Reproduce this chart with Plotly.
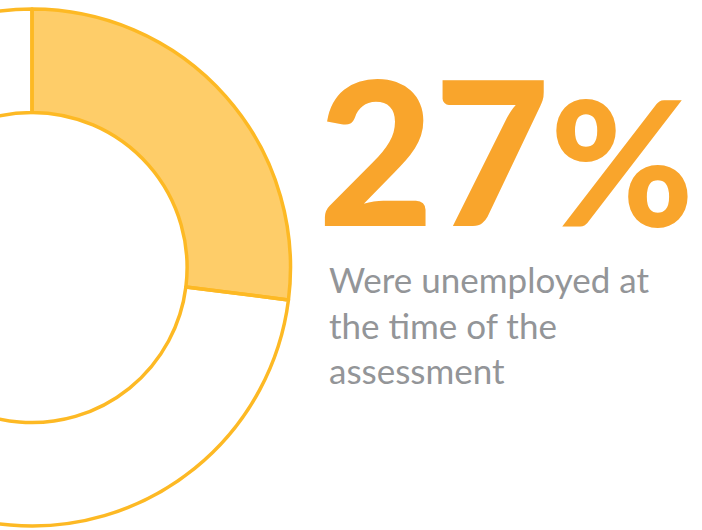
import plotly.graph_objects as go

# ---- data ----
labels = ["Unemployed", "Other"]
values = [27, 73]
slice_colors = ["#FECD69", "rgba(255,255,255,0)"]
big_number = "27"
big_unit = "%"
caption_lines = ["Were unemployed at", "the time of the", "assessment"]

# ---- layout geometry (figure wider than window, shifted left) ----
W, H = 1000, 530
S = 300  # px shifted out of view on the left

cx, cy, R = 32 + S, 267.5, 258.5
dom_x = [(cx - R) / W, (cx + R) / W]
dom_y = [1 - (cy + R) / H, 1 - (cy - R) / H]

fig = go.Figure(
    go.Pie(
        labels=labels,
        values=values,
        hole=0.6,
        sort=False,
        direction="clockwise",
        rotation=0,
        marker=dict(colors=slice_colors, line=dict(color="#FDB924", width=3.5)),
        textinfo="none",
        hoverinfo="label+percent",
        showlegend=False,
        domain=dict(x=dom_x, y=dom_y),
    )
)

fig.add_annotation(
    x=(316 + S) / W, y=1 - 271 / H, xref="paper", yref="paper",
    xanchor="left", yanchor="bottom", showarrow=False,
    text=big_number + "<span style='font-size:174px'>" + big_unit + "</span>",
    font=dict(family="Lato", size=200, color="#F9A52C", weight=900),
)

fig.add_annotation(
    x=(327 + S) / W, y=1 - 256 / H, xref="paper", yref="paper",
    xanchor="left", yanchor="top", showarrow=False, align="left",
    text="<br>".join(caption_lines),
    font=dict(family="Lato", size=35, color="#939598", weight=400),
)

fig.update_layout(
    width=W, height=H, autosize=False,
    margin=dict(l=0, r=0, t=0, b=0),
    paper_bgcolor="white", plot_bgcolor="white",
)

post = (
    "var d=document.getElementById('{plot_id}');"
    "d.style.marginLeft='-" + str(S) + "px';"
    "document.documentElement.style.overflow='hidden';"
    "document.body.style.overflow='hidden';"
    "document.body.style.margin='0';"
)

fig.write_html("out.html", post_script=post)
